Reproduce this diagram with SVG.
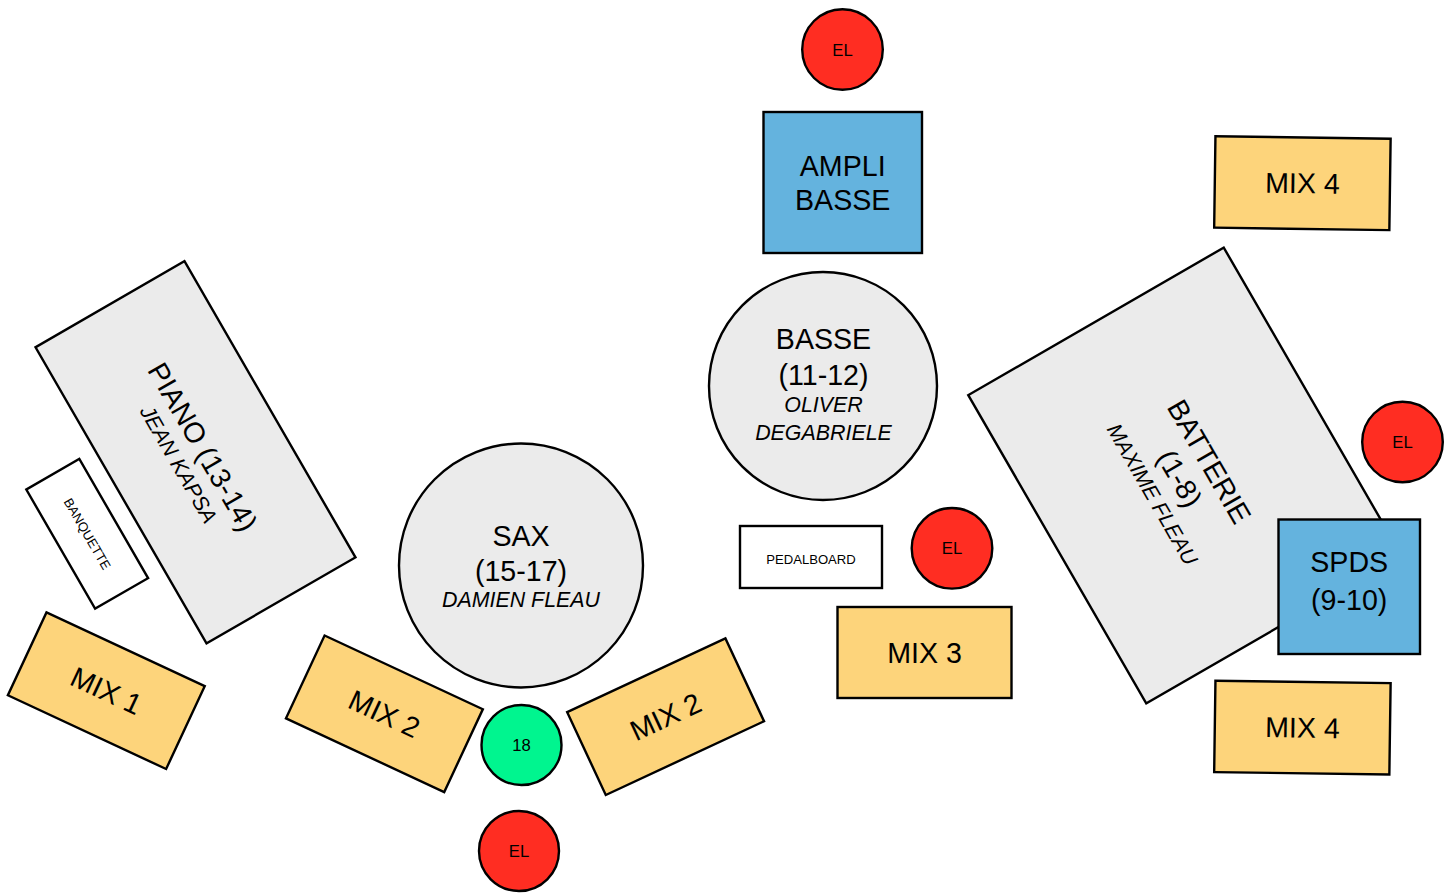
<svg xmlns="http://www.w3.org/2000/svg" width="1453" height="894" viewBox="0 0 1453 894">
<style>
  .s { stroke:#000; stroke-width:2.4; }
  .gray { fill:#EBEBEB; }
  .yel { fill:#FDD47B; }
  .blue { fill:#64B3DE; }
  .red { fill:#FF2D22; }
  .green { fill:#00F58F; }
  .white { fill:#FFFFFF; }
  text { font-family:"Liberation Sans", Arial, Helvetica, sans-serif; fill:#000; text-anchor:middle; }
  .big { font-size:28.6px; }
  .it { font-size:21.4px; font-style:italic; }
  .sm { font-size:16.7px; }
  .xs { font-size:13.1px; }
</style>
<rect width="1453" height="894" fill="#FFFFFF"/>

<g id="piano" transform="translate(195.5,452.3) rotate(60)">
  <rect class="s gray" x="-171" y="-86" width="342" height="172"/>
  <text class="big" x="-1" y="1">PIANO (13-14)</text>
  <text class="it" x="2" y="28">JEAN KAPSA</text>
</g>

<g id="banquette" transform="translate(87.2,533.8) rotate(60)">
  <rect class="s white" x="-68.8" y="-30.6" width="137.6" height="61.2"/>
  <text class="xs" x="0" y="4.5">BANQUETTE</text>
</g>

<g id="mix1" transform="translate(106.3,690.7) rotate(25)">
  <rect class="s yel" x="-87.3" y="-45.7" width="174.6" height="91.4"/>
  <text class="big" x="0" y="10">MIX 1</text>
</g>

<g id="mix2-left" transform="translate(384.4,713.8) rotate(25)">
  <rect class="s yel" x="-87.3" y="-45.7" width="174.6" height="91.4"/>
  <text class="big" x="0" y="10">MIX 2</text>
</g>

<g id="mix2-right" transform="translate(665.6,716.7) rotate(-25)">
  <rect class="s yel" x="-87.3" y="-45.7" width="174.6" height="91.4"/>
  <text class="big" x="0" y="10">MIX 2</text>
</g>

<g id="sax">
  <circle class="s gray" cx="521" cy="565.5" r="122"/>
  <text class="big" x="521" y="546">SAX</text>
  <text class="big" x="521" y="580.7">(15-17)</text>
  <text class="it" x="521" y="606.7">DAMIEN FLEAU</text>
</g>

<g id="in18">
  <circle class="s green" cx="521.5" cy="745" r="40"/>
  <text class="sm" x="521.5" y="751">18</text>
</g>

<g id="el-sax">
  <circle class="s red" cx="519" cy="851" r="40"/>
  <text class="sm" x="519" y="857">EL</text>
</g>

<g id="el-ampli">
  <circle class="s red" cx="842.5" cy="49.5" r="40.3"/>
  <text class="sm" x="842.5" y="55.5">EL</text>
</g>

<g id="ampli-basse">
  <rect class="s blue" x="763.5" y="112" width="158.5" height="141"/>
  <text class="big" x="842.7" y="175.7">AMPLI</text>
  <text class="big" x="842.7" y="210">BASSE</text>
</g>

<g id="basse">
  <circle class="s gray" cx="823" cy="386" r="114"/>
  <text class="big" x="823.5" y="349.3">BASSE</text>
  <text class="big" x="823.5" y="385">(11-12)</text>
  <text class="it" x="823.5" y="411.7">OLIVER</text>
  <text class="it" x="823.5" y="440">DEGABRIELE</text>
</g>

<g id="pedalboard">
  <rect class="s white" x="740" y="526" width="142" height="62"/>
  <text class="xs" x="811" y="564">PEDALBOARD</text>
</g>

<g id="el-basse">
  <circle class="s red" cx="952" cy="548.3" r="40.3"/>
  <text class="sm" x="952" y="554.3">EL</text>
</g>

<g id="mix3">
  <rect class="s yel" x="837.5" y="607" width="174" height="91"/>
  <text class="big" x="924.5" y="663">MIX 3</text>
</g>

<g id="batterie" transform="translate(1185,475.5) rotate(60)">
  <rect class="s gray" x="-178" y="-147.5" width="356" height="295"/>
  <text class="big" x="0" y="-18">BATTERIE</text>
  <text class="big" x="0" y="16">(1-8)</text>
  <text class="it" x="0" y="45">MAXIME FLEAU</text>
</g>

<g id="el-batterie">
  <circle class="s red" cx="1402.5" cy="442" r="40.3"/>
  <text class="sm" x="1402.5" y="448">EL</text>
</g>

<g id="spds">
  <rect class="s blue" x="1278.5" y="519.5" width="141.5" height="134.5"/>
  <text class="big" x="1349.2" y="571.7">SPDS</text>
  <text class="big" x="1349.2" y="610">(9-10)</text>
</g>

<g id="mix4-top" transform="translate(1302.4,183.2) rotate(0.8)">
  <rect class="s yel" x="-87.6" y="-45.7" width="175.2" height="91.4"/>
  <text class="big" x="0" y="10">MIX 4</text>
</g>

<g id="mix4-bottom" transform="translate(1302.4,727.6) rotate(0.8)">
  <rect class="s yel" x="-87.6" y="-45.7" width="175.2" height="91.4"/>
  <text class="big" x="0" y="10">MIX 4</text>
</g>

<g id="connectors"></g>
</svg>
